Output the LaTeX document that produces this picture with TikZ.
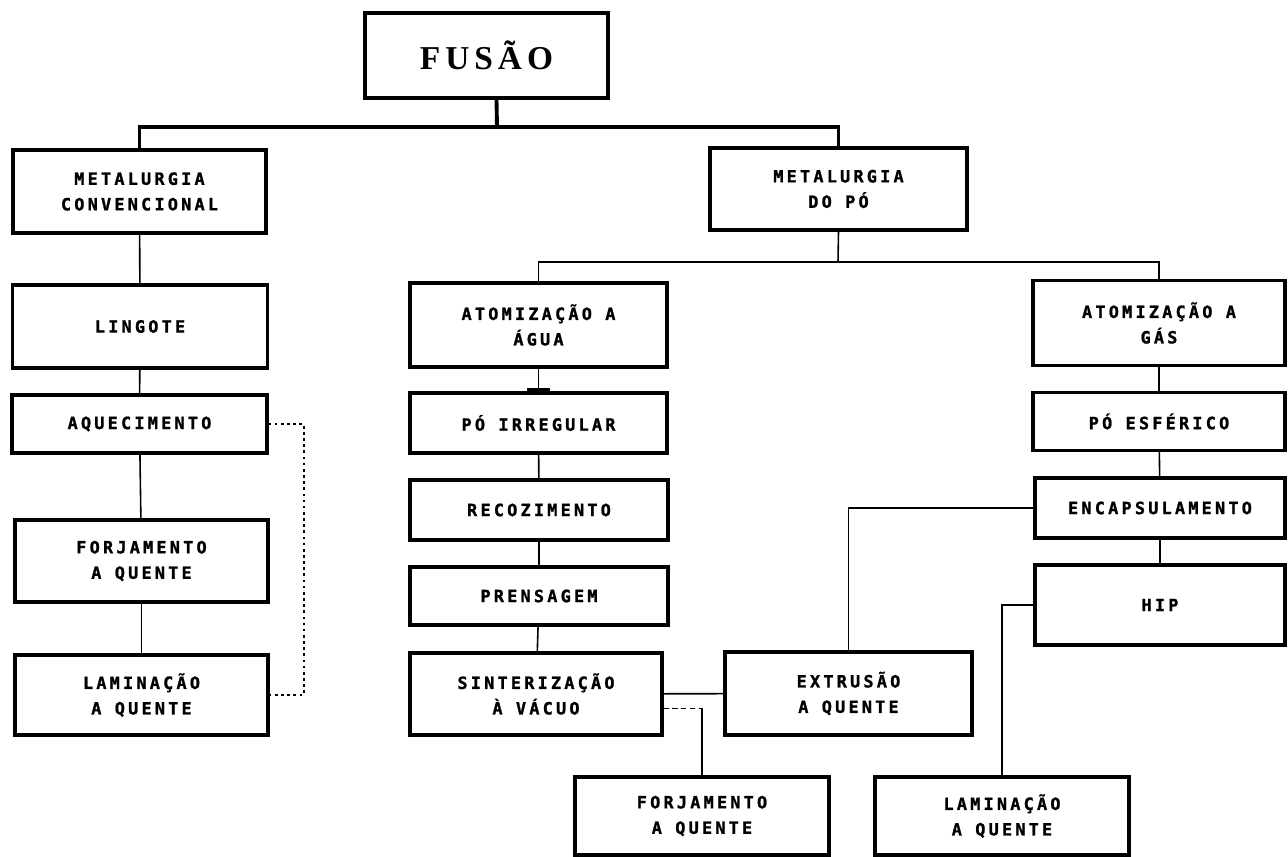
\documentclass[tikz,border=0pt]{standalone}
\usepackage{fontspec}
\newfontfamily\boxfont[LetterSpace=19,BoldFeatures={FakeBold=1.2}]{DejaVu Sans Mono}
\newfontfamily\titlefont[LetterSpace=15]{Liberation Serif}
\usetikzlibrary{arrows.meta}

\begin{document}
\begin{tikzpicture}[x=0.02cm,y=-0.02cm,
    box/.style={draw, line width=1.9pt, align=center, inner sep=0pt,
        font=\boxfont\bfseries\fontsize{9.6}{14.5}\selectfont},
    link/.style={line width=0.9pt},
    trunk/.style={line width=2.2pt},
    dotlink/.style={line width=1.2pt, dash pattern=on 1.5pt off 2pt},
    dashlink/.style={line width=1pt, dash pattern=on 3pt off 2pt}]
    \useasboundingbox (0,0) rectangle (1288,857);

    % top of the tree
    \node[box, minimum width=4.86cm, minimum height=1.7cm,
        font=\titlefont\bfseries\fontsize{19}{21}\selectfont] (fusao) at (486.5,55.5) {FUSÃO};
    \node[box, minimum width=5.06cm, minimum height=1.66cm] (conv) at (139.5,191.5) {METALURGIA\\CONVENCIONAL};
    \node[box, minimum width=5.14cm, minimum height=1.64cm] (po) at (838.5,189) {METALURGIA\\DO PÓ};

    % conventional route
    \node[box, minimum width=5.1cm, minimum height=1.66cm] (lingote) at (140,326.5) {LINGOTE};
    \node[box, minimum width=5.1cm, minimum height=1.16cm] (aquec) at (139.5,424) {AQUECIMENTO};
    \node[box, minimum width=5.06cm, minimum height=1.64cm] (forj1) at (141.5,561) {FORJAMENTO\\A QUENTE};
    \node[box, minimum width=5.06cm, minimum height=1.6cm] (lamin1) at (141.5,695) {LAMINAÇÃO\\A QUENTE};

    % water atomisation
    \node[box, minimum width=5.14cm, minimum height=1.68cm] (agua) at (538.5,325) {ATOMIZAÇÃO A\\ÁGUA};
    \node[box, minimum width=5.14cm, minimum height=1.2cm] (irreg) at (538.5,423) {PÓ IRREGULAR};
    \node[box, minimum width=5.16cm, minimum height=1.2cm] (recoz) at (539,510) {RECOZIMENTO};
    \node[box, minimum width=5.16cm, minimum height=1.16cm] (prens) at (539,596) {PRENSAGEM};
    \node[box, minimum width=5.04cm, minimum height=1.64cm] (sint) at (536,694) {SINTERIZAÇÃO\\À VÁCUO};
    \node[box, minimum width=4.94cm, minimum height=1.66cm] (extr) at (848.5,693.5) {EXTRUSÃO\\A QUENTE};
    \node[box, minimum width=5.08cm, minimum height=1.56cm] (forj2) at (702,816) {FORJAMENTO\\A QUENTE};
    \node[box, minimum width=5.08cm, minimum height=1.56cm] (lamin2) at (1002,816) {LAMINAÇÃO\\A QUENTE};

    % gas atomisation
    \node[box, minimum width=5.04cm, minimum height=1.7cm] (gas) at (1159,323) {ATOMIZAÇÃO A\\GÁS};
    \node[box, minimum width=5.04cm, minimum height=1.16cm] (esfer) at (1159,421.5) {PÓ ESFÉRICO};
    \node[box, minimum width=5cm, minimum height=1.2cm] (encaps) at (1160,508) {ENCAPSULAMENTO};
    \node[box, minimum width=5cm, minimum height=1.6cm] (hip) at (1160,605) {HIP};

    % connectors
    \coordinate (bar) at (497,127);
    \coordinate (split) at (838,262);
    \draw[trunk] ([xshift=0.2cm]fusao.south) -- (bar);
    \draw[trunk] (conv.north) |- (bar) -| (po.north);
    \draw[link] (po.south) -- (split);
    \draw[link] (agua.north) |- (split) -| (gas.north);

    \draw[link] (conv) -- (lingote);
    \draw[link] (lingote) -- (aquec);
    \draw[link] (aquec) -- (forj1);
    \draw[link] (forj1) -- (lamin1);
    \draw[dotlink] (aquec.east) -- ++(35,0) |- (lamin1.east);

    \draw[link, shorten <=-1.5pt, {Bar[width=12pt,line width=1.6pt]}-{Bar[width=13pt,line width=2pt]}] (agua) -- (irreg);
    \draw[link] (irreg) -- (recoz);
    \draw[link] (recoz) -- (prens);
    \draw[link] (prens) -- (sint);
    \draw[link] (sint) -- (extr);
    \coordinate (sintlow) at ([yshift=-0.29cm]sint.east);
    \draw[dashlink] (sintlow) -- (sintlow -| forj2.north);
    \draw[link] (sintlow -| forj2.north) -- (forj2.north);

    \draw[link] (gas) -- (esfer);
    \draw[link] (esfer) -- (encaps);
    \draw[link] (encaps) -- (hip);
    \draw[link] (encaps.west) -| (extr.north);
    \draw[link] (hip.west) -| (lamin2.north);
\end{tikzpicture}
\end{document}
